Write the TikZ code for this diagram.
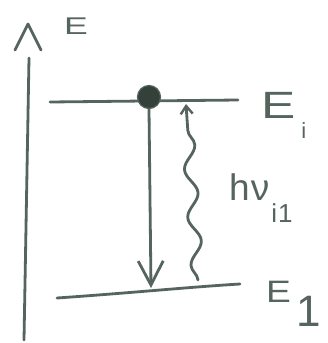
\documentclass[tikz,border=0pt]{standalone}
\usepackage{fontspec}
\setmainfont{Liberation Sans}
\usetikzlibrary{decorations.pathmorphing,arrows.meta}
\definecolor{ink}{RGB}{86,100,94}
\definecolor{dotfill}{RGB}{52,64,58}
\begin{document}
\begin{tikzpicture}[x=1pt,y=-1pt,
  stroke/.style={draw=ink,line width=2.8pt,line cap=round,line join=round},
  lbl/.style={text=ink,inner sep=0pt,anchor=base west},
  barb/.style={-{Straight Barb[length=24pt,width=25pt,line width=2.8pt]}}]
\useasboundingbox (0,0) rectangle (327,343);
\fill[white] (0,0) rectangle (327,343);
% energy axis
\coordinate (axb) at (24,340);
\coordinate (axt) at (29,58);
\draw[stroke] (axb) -- (axt);
\coordinate (chl) at (15,50);
\coordinate (chp) at (28,24);
\coordinate (chr) at (41,50);
\draw[stroke] (chl) -- (chp) -- (chr);
\node[lbl,font=\fontsize{23}{23}\selectfont] (E) at (64,34) {\scalebox{1.55}[1.05]{E}};
% levels
\coordinate (uL) at (50,102);
\coordinate (uR) at (238,100);
\draw[stroke] (uL) -- (uR);
\coordinate (lL) at (57,298);
\coordinate (lR) at (240,284);
\draw[stroke] (lL) .. controls (130,293) and (190,287) .. (lR);
% electron
\node[circle,fill=dotfill,draw=ink,line width=1.2pt,minimum size=23pt,inner sep=0pt] (dot) at (149,97) {};
\coordinate (tip) at (151,288);
\draw[stroke,barb] (dot.south) -- (tip);
% photon
\coordinate (wb) at (198,280);
\coordinate (wt) at (186,104);
\draw[stroke,decorate,decoration={snake,segment length=48pt,amplitude=6pt,post length=10pt},
  -{Straight Barb[length=8pt,width=12pt,line width=2.4pt]}] (wb) -- (wt);
% labels
\node[lbl,font=\fontsize{38}{38}\selectfont] (Ei) at (261,118) {\scalebox{1.35}[1]{E}\hspace{6pt}\raisebox{-20pt}{\fontsize{22}{22}\selectfont i}};
\node[lbl,font=\fontsize{37}{37}\selectfont] (hv) at (229,200) {h\hspace{1pt}ν\hspace{2pt}\raisebox{-22pt}{\fontsize{26}{26}\selectfont i\hspace{1pt}1}};
\node[lbl,font=\fontsize{31}{31}\selectfont] (E1) at (266,302) {\scalebox{1.2}[1]{E}\hspace{5pt}\raisebox{-24pt}{\fontsize{44}{44}\selectfont 1}};
\end{tikzpicture}
\end{document}
